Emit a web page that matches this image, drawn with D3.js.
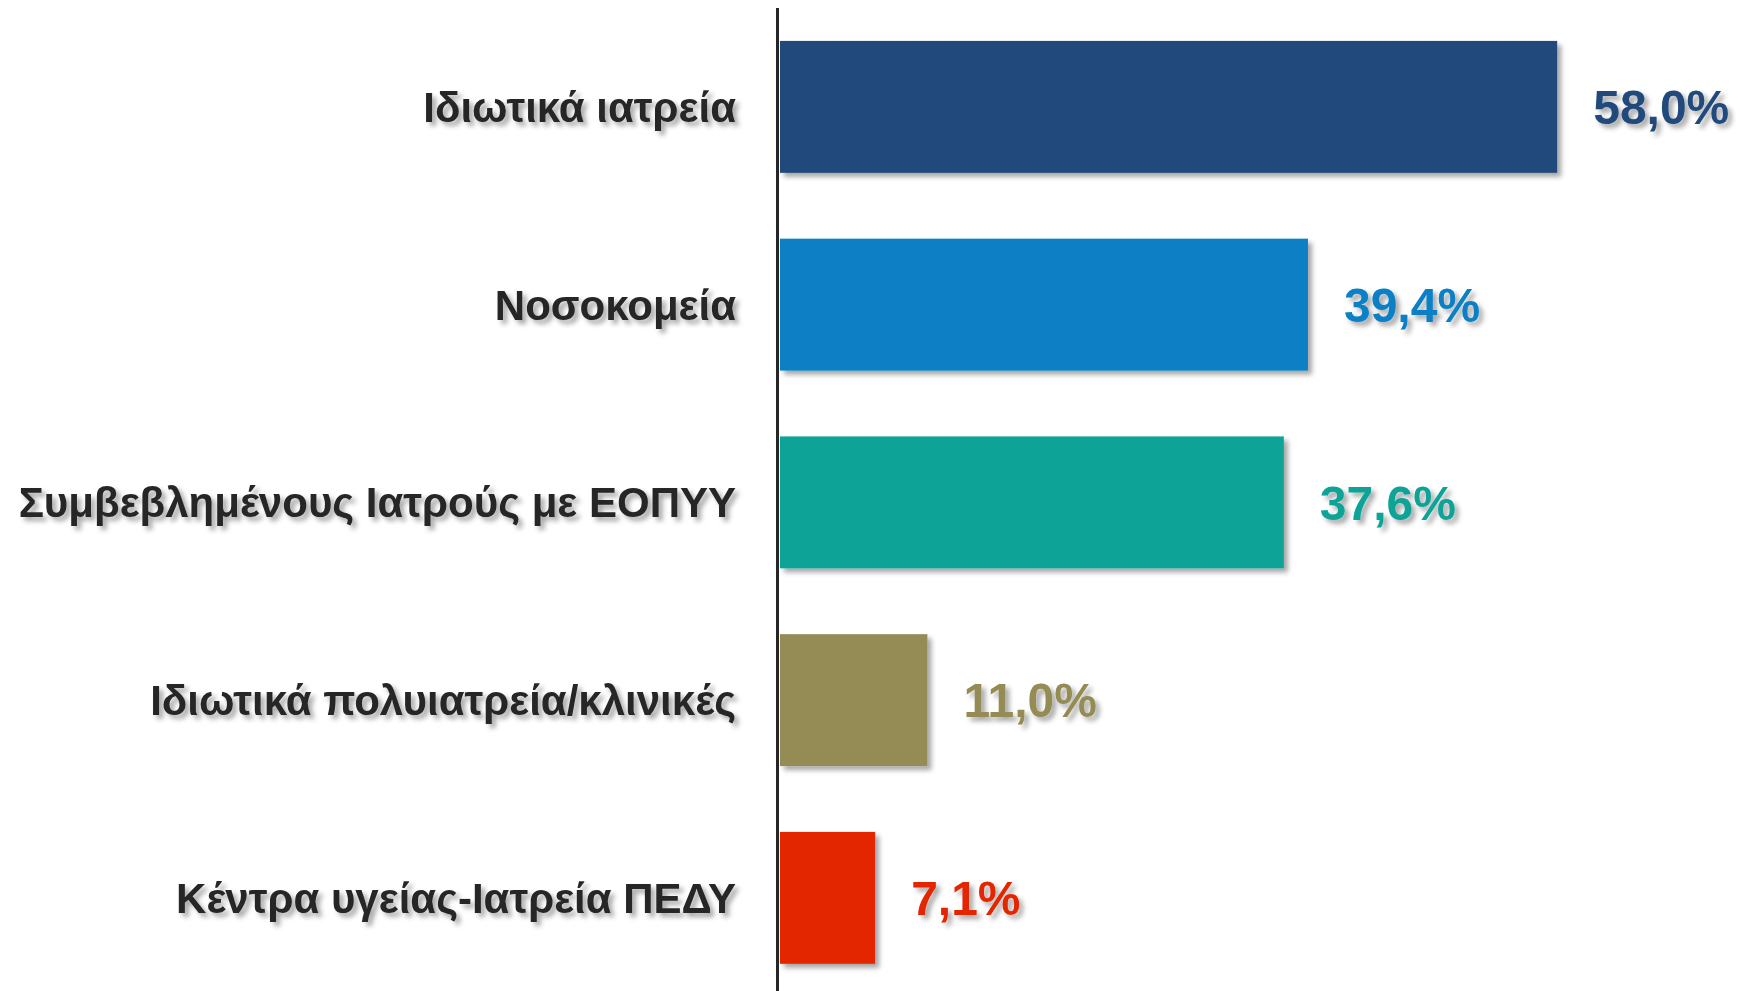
<!DOCTYPE html>
<html>
<head>
<meta charset="utf-8">
<script src="https://cdn.jsdelivr.net/npm/d3@7"></script>
<style>
  body { margin: 0; background: #fff; }
  svg { display: block; }
  .cat-label { font-family: "Liberation Sans", Arial, sans-serif; font-weight: bold; font-size: 42px; fill: #262626; }
  .val-label { font-family: "Liberation Sans", Arial, sans-serif; font-weight: bold; font-size: 48px; }
</style>
</head>
<body>
<svg id="chart"></svg>
<script>
var categories = [
  "Ιδιωτικά ιατρεία",
  "Νοσοκομεία",
  "Συμβεβλημένους Ιατρούς με ΕΟΠΥΥ",
  "Ιδιωτικά πολυιατρεία/κλινικές",
  "Κέντρα υγείας-Ιατρεία ΠΕΔΥ"
];
var values = [58.0, 39.4, 37.6, 11.0, 7.1];
var colors = ["#204A7B", "#0880C5", "#0AA396", "#958B55", "#E42600"];

var W = 1748, H = 991;
var margin = {top: 8, left: 780};

var svg = d3.select("#chart")
  .attr("width", W)
  .attr("height", H);

// soft drop shadow like the original
var defs = svg.append("defs");
var f = defs.append("filter").attr("id", "shadow")
  .attr("x", "-10%").attr("y", "-10%").attr("width", "130%").attr("height", "140%");
f.append("feDropShadow")
  .attr("dx", 4).attr("dy", 4).attr("stdDeviation", 2.5)
  .attr("flood-color", "#000").attr("flood-opacity", 0.35);

var x = d3.scaleLinear().domain([0, 60]).range([0, 60 * 13.4]);
var y = d3.scaleBand().domain(categories)
  .range([margin.top, margin.top + 988.75])
  .paddingInner(0.333)
  .paddingOuter(0.1665);

var g = svg.append("g").attr("transform", "translate(" + margin.left + ",0)");

//Bars
g.selectAll(".bar")
  .data(values)
  .enter().append("rect")
  .attr("class", "bar")
  .attr("x", 0)
  .attr("y", function(d, i){ return y(categories[i]); })
  .attr("width", function(d){ return x(d); })
  .attr("height", y.bandwidth())
  .style("fill", function(d, i){ return colors[i]; })
  .attr("filter", "url(#shadow)");

//Value labels
g.selectAll(".val-label")
  .data(values)
  .enter().append("text")
  .attr("class", "val-label")
  .attr("x", function(d){ return x(d) + 36; })
  .attr("y", function(d, i){ return y(categories[i]) + y.bandwidth() / 2; })
  .attr("dy", "0.36em")
  .style("fill", function(d, i){ return colors[i]; })
  .attr("filter", "url(#shadow)")
  .text(function(d){ return d.toFixed(1).replace(".", ",") + "%"; });

//Category labels (keep the longest one inside the page)
var maxLabel = 720;
g.selectAll(".cat-label")
  .data(categories)
  .enter().append("text")
  .attr("class", "cat-label")
  .attr("x", -44)
  .attr("y", function(d){ return y(d) + y.bandwidth() / 2; })
  .attr("dy", "0.36em")
  .attr("text-anchor", "end")
  .attr("filter", "url(#shadow)")
  .text(function(d){ return d; })
  .each(function(){
    var len = this.getComputedTextLength();
    if(len > maxLabel){
      d3.select(this).attr("textLength", maxLabel).attr("lengthAdjust", "spacingAndGlyphs");
    }
  });

//Vertical axis line
g.append("line")
  .attr("x1", -2.5).attr("x2", -2.5)
  .attr("y1", margin.top).attr("y2", H)
  .style("stroke", "#262626")
  .style("stroke-width", 3);
</script>
</body>
</html>
